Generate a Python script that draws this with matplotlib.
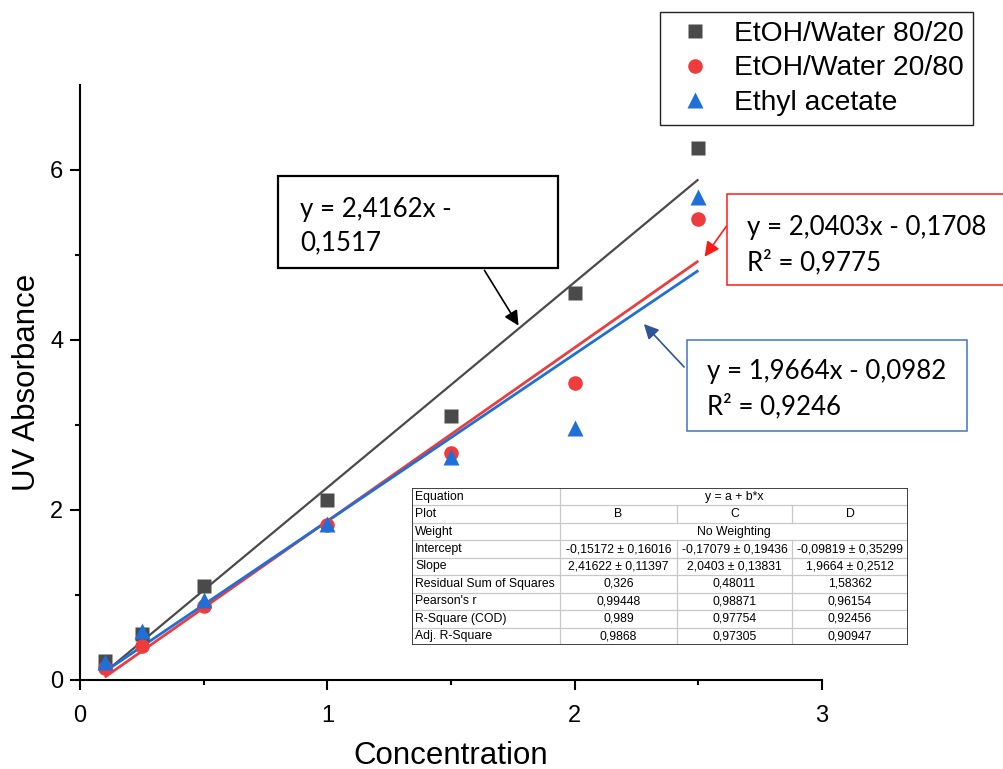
import numpy as np
import matplotlib
matplotlib.use("Agg")
import matplotlib.pyplot as plt
from matplotlib.patches import Rectangle, FancyArrowPatch

# ── data ───────────────────────────────────────────────────────────────────────
conc = [0.1, 0.25, 0.5, 1.0, 1.5, 2.0, 2.5]
abs_8020 = [0.22, 0.54, 1.11, 2.12, 3.11, 4.55, 6.26]
abs_2080 = [0.14, 0.40, 0.87, 1.82, 2.67, 3.49, 5.42]
abs_etac = [0.21, 0.58, 0.94, 1.84, 2.62, 2.97, 5.68]

series_names = ["EtOH/Water 80/20", "EtOH/Water 20/80", "Ethyl acetate"]
fit_slope = [2.4162, 2.0403, 1.9664]
fit_icpt = [-0.1517, -0.1708, -0.0982]

eq_texts = ["y = 2,4162x -\n0,1517",
            "y = 2,0403x - 0,1708\nR² = 0,9775",
            "y = 1,9664x - 0,0982\nR² = 0,9246"]

tbl_rows = ["Equation", "Plot", "Weight", "Intercept", "Slope",
            "Residual Sum of Squares", "Pearson's r", "R-Square (COD)",
            "Adj. R-Square"]
tbl_B = ["-0,15172 ± 0,16016", "2,41622 ± 0,11397", "0,326", "0,99448", "0,989", "0,9868"]
tbl_C = ["-0,17079 ± 0,19436", "2,0403 ± 0,13831", "0,48011", "0,98871", "0,97754", "0,97305"]
tbl_D = ["-0,09819 ± 0,35299", "1,9664 ± 0,2512", "1,58362", "0,96154", "0,92456", "0,90947"]

COLORS = ["#4a4a4a", "#ee3c3c", "#1f6fd8"]
MARKERS = ["s", "o", "^"]
MSIZE = [9.5, 10.5, 12]

W, H = 1004, 769
plt.rcParams["font.family"] = ["Liberation Sans", "DejaVu Sans"]


def px(x, y):
    """pixel (from top-left) -> figure fraction"""
    return (x / W, 1 - y / H)


fig = plt.figure(figsize=(W / 100, H / 100), dpi=100)
ax = fig.add_axes([80 / W, 1 - 680 / H, 742 / W, 595 / H])

# ── fits + points ──────────────────────────────────────────────────────────────
xfit = np.array([min(conc), max(conc)])
for b, a, c, lw in zip(fit_slope, fit_icpt, COLORS, [1.6, 2.0, 2.0]):
    ax.plot(xfit, b * xfit + a, color=c, lw=lw, zorder=2, solid_capstyle="butt")

for ys, c, m, s, name in zip([abs_8020, abs_2080, abs_etac], COLORS, MARKERS, MSIZE, series_names):
    ax.plot(conc, ys, ls="none", marker=m, ms=s, color=c, mec="none", label=name, zorder=3)

ax.set_xlim(0, 3)
ax.set_ylim(0, 7)
ax.set_xticks([0, 1, 2, 3])
ax.set_xticks([0.5, 1.5, 2.5], minor=True)
ax.set_yticks([0, 2, 4, 6])
ax.set_yticks([1, 3, 5], minor=True)
for s in ["top", "right"]:
    ax.spines[s].set_visible(False)
for s in ["left", "bottom"]:
    ax.spines[s].set_linewidth(1.5)
ax.tick_params(which="major", direction="out", length=7, width=1.5, labelsize=17, pad=5)
ax.tick_params(which="minor", direction="out", length=3.5, width=1.5)
ax.tick_params(axis="x", which="major", pad=11)
ax.set_xlabel("Concentration", fontsize=22.5, labelpad=10)
ax.set_ylabel("UV Absorbance", fontsize=22.5, labelpad=6)

# ── legend ─────────────────────────────────────────────────────────────────────
ax.legend(loc="upper right", bbox_to_anchor=px(973, 12), bbox_transform=fig.transFigure,
          fontsize=20.3, frameon=True, fancybox=False, edgecolor="#222222", framealpha=1,
          numpoints=1, borderpad=0.32, handlelength=1.8, handletextpad=0.5,
          labelspacing=0.3, borderaxespad=0)
ax.get_legend().get_frame().set_linewidth(1.0)

# ── equation boxes + arrows ────────────────────────────────────────────────────
# (x0, y0, x1, y1), edge colour, text pos, arrow start, arrow tip, arrow colour
boxes = [
    ((278, 176, 558, 268), "black", (300, 226), (483, 268), (520, 328), "black"),
    ((727, 194, 1010, 285), "#ff1a1a", (747, 245), (728, 224), (703, 259), "#ff1a1a"),
    ((687, 340, 967, 431), "#4472c4", (707, 389), (686, 369), (642, 322), "#2f5597"),
]
for (rect, ec, tpos, a0, a1, ac), txt in zip(boxes, eq_texts):
    x0, y0, x1, y1 = rect
    fig.patches.append(Rectangle(px(x0, y1), (x1 - x0) / W, (y1 - y0) / H,
                                 transform=fig.transFigure, fill=True, fc="white",
                                 ec=ec, lw=1.6 if ec == "black" else 1.1, zorder=5))
    fig.text(*px(*tpos), txt, fontsize=18.6, family=["Lato", "DejaVu Sans"],
             ha="left", va="center", linespacing=1.45, zorder=6)
    fig.add_artist(FancyArrowPatch(px(*a0), px(*a1), transform=fig.transFigure,
                                   arrowstyle="-|>", mutation_scale=22, lw=1.2,
                                   color=ac, zorder=6))

# ── Origin fit table ───────────────────────────────────────────────────────────
tx = fig.add_axes([412 / W, 1 - 645 / H, 496 / W, 157 / H])
tx.set_xlim(412, 908)
tx.set_ylim(645, 488)
tx.axis("off")
col_x = [412, 560, 677, 792, 908]
n_rows = len(tbl_rows)
row_h = (645 - 488) / n_rows
tx.add_patch(Rectangle((412, 488), 496, 157, fc="white", ec="none", zorder=0))
tfont = dict(fontsize=8.8, family=["Liberation Sans Narrow", "Liberation Sans"], va="center")
for i in range(1, n_rows):
    tx.plot([412, 908], [488 + i * row_h] * 2, color="#c8c8c8", lw=0.9)
tx.plot([col_x[1]] * 2, [488, 645], color="#c8c8c8", lw=0.9)
for cx in col_x[2:4]:
    for i in range(n_rows):
        if tbl_rows[i] in ("Equation", "Weight"):
            continue
        tx.plot([cx, cx], [488 + i * row_h, 488 + (i + 1) * row_h], color="#c8c8c8", lw=0.9)
tx.add_patch(Rectangle((412, 488), 496, 157, fill=False, ec="#333333", lw=1.3, zorder=4))

for i, lab in enumerate(tbl_rows):
    yc = 488 + (i + 0.5) * row_h
    tx.text(415, yc, lab, ha="left", **tfont)
    if lab == "Equation":
        tx.text((col_x[1] + col_x[4]) / 2, yc, "y = a + b*x", ha="center", **tfont)
    elif lab == "Weight":
        tx.text((col_x[1] + col_x[4]) / 2, yc, "No Weighting", ha="center", **tfont)
    elif lab == "Plot":
        for k, v in enumerate(["B", "C", "D"]):
            tx.text((col_x[k + 1] + col_x[k + 2]) / 2, yc, v, ha="center", **tfont)
    else:
        for k, col in enumerate([tbl_B, tbl_C, tbl_D]):
            tx.text((col_x[k + 1] + col_x[k + 2]) / 2, yc, col[i - 3], ha="center", **tfont)

fig.savefig("out.png", dpi=100)
plt.close()
